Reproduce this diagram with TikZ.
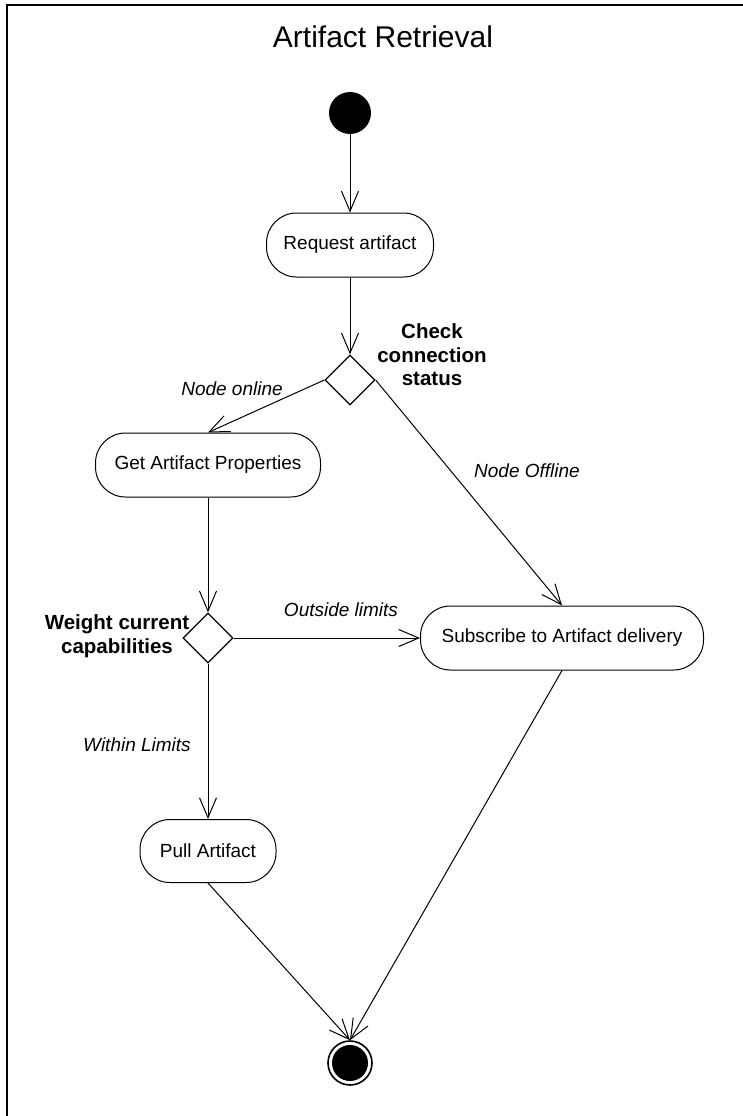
\documentclass[tikz,border=0pt]{standalone}
\usepackage{fontspec}
\setmainfont{Liberation Sans}
\usetikzlibrary{arrows.meta,shapes.geometric}
\begin{document}
\begin{tikzpicture}[x=1pt,y=-1pt,
  flow/.style={line width=1pt, -{Straight Barb[length=20pt,width=17pt,line width=1pt]}},
  action/.style={draw, line width=1pt, rounded corners=30pt, minimum height=64pt,
    font=\fontsize{19}{22}\selectfont, inner sep=0pt},
  decision/.style={draw, diamond, line width=1.3pt, minimum size=50pt, inner sep=0pt, aspect=1},
  guard/.style={font=\fontsize{19}{22}\selectfont\itshape, inner sep=0pt},
  dlabel/.style={font=\fontsize{20.5}{23.5}\selectfont\bfseries, align=center, inner sep=0pt}
]
\useasboundingbox (0,0) rectangle (743,1116);
% frame of the diagram
\draw[line width=1.6pt] (7,1130) -- (7,5) -- (760,5);
\node[font=\fontsize{30}{34}\selectfont] (title) at (383,37) {Artifact Retrieval};

% activity nodes
\node[circle, fill=black, minimum size=42pt, inner sep=0pt] (start) at (350,113) {};
\node[action, minimum width=167pt] (req) at (350,245) {Request artifact};
\node[decision] (d1) at (350,380) {};
\node[action, minimum width=225pt] (props) at (208,465) {Get Artifact Properties};
\node[decision] (d2) at (208,638) {};
\node[action, minimum width=283pt] (subs) at (562,638) {Subscribe to Artifact delivery};
\node[action, minimum width=136pt, minimum height=63pt] (pull) at (208,851) {Pull Artifact};
\node[circle, draw, line width=1.6pt, minimum size=44pt, inner sep=0pt] (end) at (350,1063) {};
\node[circle, fill=black, minimum size=36pt, inner sep=0pt] (endcore) at (end.center) {};

% labels
\node[dlabel] (d1lab) at (432,355) {Check\\connection\\status};
\node[dlabel] (d2lab) at (117,636) {Weight current\\capabilities};
\node[guard] (g1) at (232,389) {Node online};
\node[guard] (g2) at (527,471) {Node Offline};
\node[guard] (g3) at (341,610) {Outside limits};
\node[guard] (g4) at (137,745) {Within Limits};

% transitions
\draw[flow] (start) -- (req);
\draw[flow] (req) -- (d1);
\draw[flow] (d1.west) -- (props.north);
\draw[flow] (d1.east) -- (subs.north);
\draw[flow] (props) -- (d2);
\draw[flow] (d2.east) -- (subs.west);
\draw[flow] (d2.south) -- (pull.north);
\draw[flow] (pull.south) -- (end.north);
\draw[flow] (subs.south) -- (end.north);
\end{tikzpicture}
\end{document}
